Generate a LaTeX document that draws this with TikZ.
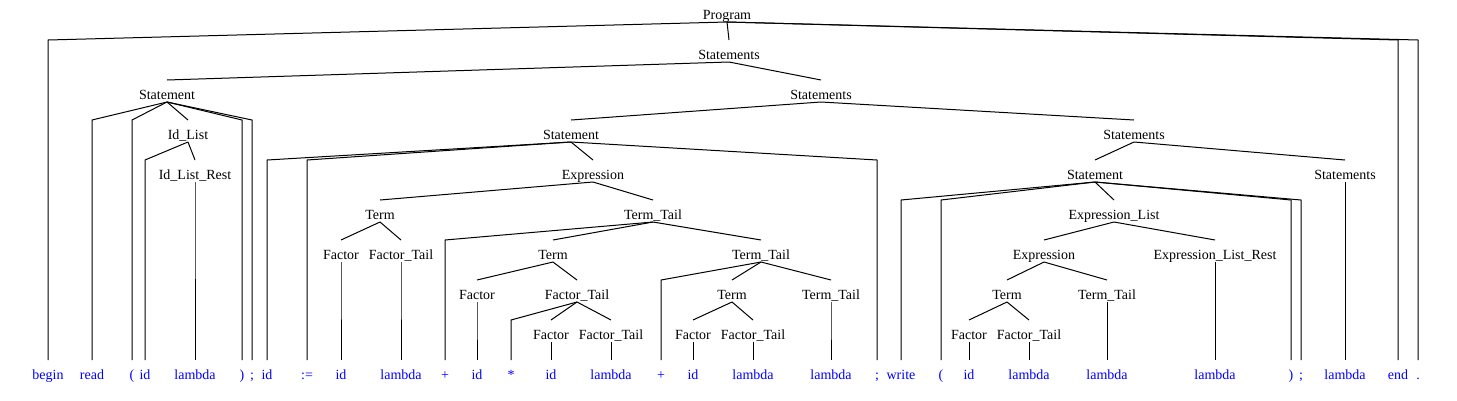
\documentclass[tikz,border=0pt]{standalone}
\usepackage{fontspec}
\setmainfont{Liberation Serif}
\begin{document}
\begin{tikzpicture}[x=1pt,y=-1pt,line width=1pt,
  nt/.style={anchor=base,inner sep=0pt,font=\fontsize{14}{16}\selectfont,text=black},
  tk/.style={anchor=base,inner sep=0pt,font=\fontsize{14}{16}\selectfont,text=blue}]
\fill[white] (0,0) rectangle (1457,400);
\useasboundingbox (0,0) rectangle (1457,400);
\newcommand\ed[2]{\draw ([yshift=-3pt]#1.base) -- ([yshift=19pt]#2.base);}
\newcommand\lf[2]{\path ([yshift=-21pt]#1.base) coordinate (tmpb);
  \draw ([yshift=-3pt]#1.base) -- (tmpb -| #2.base) -- ([yshift=19pt]#2.base);}
% nonterminals
\node[nt] (prog) at (727,19) {Program};
\node[nt] (s1) at (729,59) {Statements};
\node[nt] (sta) at (167,99) {Statement};
\node[nt] (s2) at (821,99) {Statements};
\node[nt] (idl) at (188,139) {Id\_List};
\node[nt] (stc) at (571,139) {Statement};
\node[nt] (s3) at (1134,139) {Statements};
\node[nt] (idlr) at (195,179) {Id\_List\_Rest};
\node[nt] (expe) at (593,179) {Expression};
\node[nt] (stl) at (1095,179) {Statement};
\node[nt] (s4) at (1345,179) {Statements};
\node[nt] (termf) at (380,219) {Term};
\node[nt] (ttg) at (653,219) {Term\_Tail};
\node[nt] (el) at (1114,219) {Expression\_List};
\node[nt] (fa1) at (341,259) {Factor};
\node[nt] (ft1) at (401,259) {Factor\_Tail};
\node[nt] (termh) at (553,259) {Term};
\node[nt] (tti) at (761,259) {Term\_Tail};
\node[nt] (expr2) at (1044,259) {Expression};
\node[nt] (elr) at (1215,259) {Expression\_List\_Rest};
\node[nt] (fa2) at (477,299) {Factor};
\node[nt] (ftj) at (577,299) {Factor\_Tail};
\node[nt] (termk) at (732,299) {Term};
\node[nt] (tt3) at (831,299) {Term\_Tail};
\node[nt] (term4) at (1007,299) {Term};
\node[nt] (tt4) at (1107,299) {Term\_Tail};
\node[nt] (fa3) at (551,339) {Factor};
\node[nt] (ft3) at (611,339) {Factor\_Tail};
\node[nt] (fa4) at (693,339) {Factor};
\node[nt] (ft4) at (753,339) {Factor\_Tail};
\node[nt] (fa5) at (969,339) {Factor};
\node[nt] (ft5) at (1029,339) {Factor\_Tail};
% tokens
\node[tk] (t1) at (48,379) {begin};
\node[tk] (t2) at (92,379) {read};
\node[tk] (t3) at (132,379) {(};
\node[tk] (t4) at (145,379) {id};
\node[tk] (t5) at (195,379) {lambda};
\node[tk] (t6) at (242,379) {)};
\node[tk] (t7) at (252,379) {;};
\node[tk] (t8) at (267,379) {id};
\node[tk] (t9) at (307,379) {:=};
\node[tk] (t10) at (341,379) {id};
\node[tk] (t11) at (401,379) {lambda};
\node[tk] (t12) at (445,379) {+};
\node[tk] (t13) at (477,379) {id};
\node[tk] (t14) at (511,379) {*};
\node[tk] (t15) at (551,379) {id};
\node[tk] (t16) at (611,379) {lambda};
\node[tk] (t17) at (661,379) {+};
\node[tk] (t18) at (693,379) {id};
\node[tk] (t19) at (753,379) {lambda};
\node[tk] (t20) at (831,379) {lambda};
\node[tk] (t21) at (877,379) {;};
\node[tk] (t22) at (901,379) {write};
\node[tk] (t23) at (941,379) {(};
\node[tk] (t24) at (969,379) {id};
\node[tk] (t25) at (1029,379) {lambda};
\node[tk] (t26) at (1107,379) {lambda};
\node[tk] (t27) at (1215,379) {lambda};
\node[tk] (t28) at (1291,379) {)};
\node[tk] (t29) at (1301,379) {;};
\node[tk] (t30) at (1345,379) {lambda};
\node[tk] (t31) at (1398,379) {end};
\node[tk] (t32) at (1418,379) {.};
% edges
\lf{prog}{t1} \ed{prog}{s1} \lf{prog}{t31} \lf{prog}{t32}
\ed{s1}{sta} \ed{s1}{s2}
\lf{sta}{t2} \lf{sta}{t3} \ed{sta}{idl} \lf{sta}{t6} \lf{sta}{t7}
\lf{idl}{t4} \ed{idl}{idlr}
\lf{idlr}{t5}
\ed{s2}{stc} \ed{s2}{s3}
\lf{stc}{t8} \lf{stc}{t9} \ed{stc}{expe} \lf{stc}{t21}
\ed{expe}{termf} \ed{expe}{ttg}
\ed{termf}{fa1} \ed{termf}{ft1}
\lf{fa1}{t10} \lf{ft1}{t11}
\lf{ttg}{t12} \ed{ttg}{termh} \ed{ttg}{tti}
\ed{termh}{fa2} \ed{termh}{ftj}
\lf{fa2}{t13}
\lf{ftj}{t14} \ed{ftj}{fa3} \ed{ftj}{ft3}
\lf{fa3}{t15} \lf{ft3}{t16}
\lf{tti}{t17} \ed{tti}{termk} \ed{tti}{tt3}
\ed{termk}{fa4} \ed{termk}{ft4}
\lf{fa4}{t18} \lf{ft4}{t19}
\lf{tt3}{t20}
\ed{s3}{stl} \ed{s3}{s4}
\lf{stl}{t22} \lf{stl}{t23} \ed{stl}{el} \lf{stl}{t28} \lf{stl}{t29}
\ed{el}{expr2} \ed{el}{elr}
\ed{expr2}{term4} \ed{expr2}{tt4}
\ed{term4}{fa5} \ed{term4}{ft5}
\lf{fa5}{t24} \lf{ft5}{t25}
\lf{tt4}{t26}
\lf{elr}{t27}
\lf{s4}{t30}
\end{tikzpicture}
\end{document}
